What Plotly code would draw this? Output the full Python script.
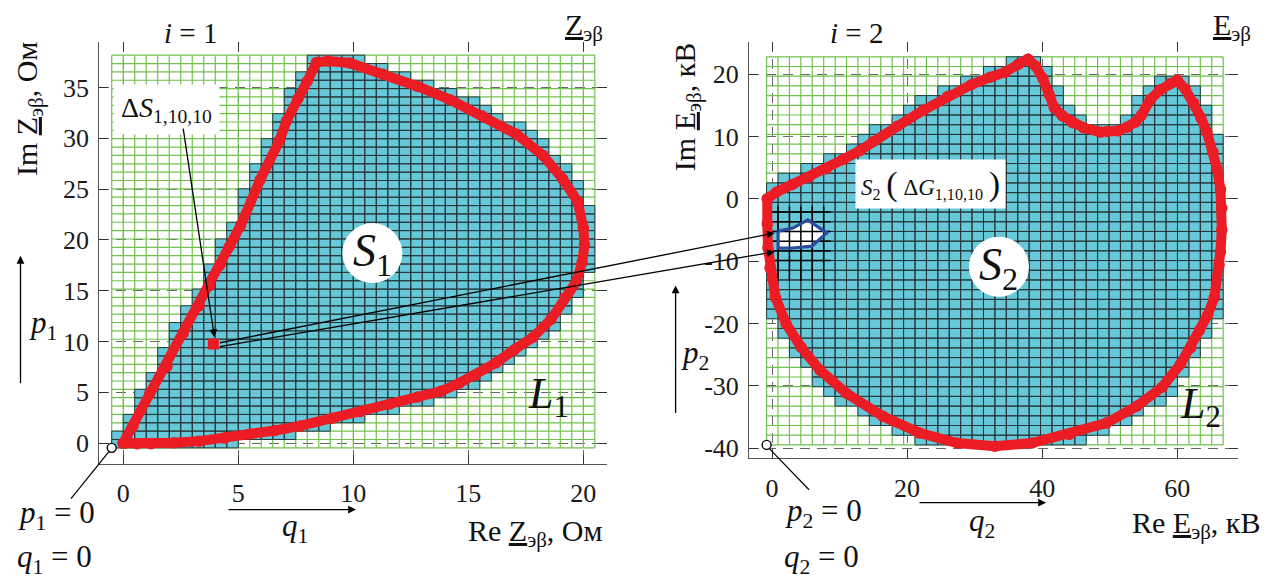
import numpy as np
import plotly.graph_objects as go

W, H = 1276, 583          # reference canvas
OFF = 8                   # default <body> margin of the html page
WF, HF = W - OFF, H - OFF  # figure size so that it fits in the window
FONT = "Liberation Serif, Times New Roman, serif"

# ---------------- data ----------------
# boundary L1 of region S1 (left plane, Ohm)
L1_X = [0, 0.6, 1.2, 2.2, 3.3, 4.4, 5.5, 6.6, 7.7, 9.1, 10.3, 11.6, 12.8, 13.8, 14.6, 15.3, 16.2,
        17.0, 17.8, 18.6, 19.2, 19.7, 19.95, 20.05, 20.0, 19.75, 19.1, 18.25, 17.1, 15.6, 14.2,
        12.8, 11.3, 9.85, 8.9, 8.4, 8.0, 7.6, 7.1, 6.8, 5.95, 5.1, 4.6, 4.2, 3.75, 3.3, 2.6, 1.9,
        1.16, 0.43, 0]
L1_Y = [0, -0.05, -0.05, 0.05, 0.2, 0.5, 0.9, 1.25, 1.7, 2.45, 3.1, 3.85, 4.55, 5.1, 5.9, 6.7, 7.9,
        9.2, 10.4, 12.2, 14.3, 15.9, 17.8, 19.5, 21.2, 23.8, 26.0, 28.3, 30.4, 32.2, 33.8,
        35.1, 36.3, 37.4, 37.6, 37.45, 35.6, 33.9, 31.7, 29.8, 25.9, 21.4, 19.3, 17.5, 15.5, 13.5,
        10.8, 7.55, 4.9, 1.7, 0]

# boundary L2 of region S2 (right plane, kV); None marks the small gap in the curve
L2_X = [-0.7, 0.7, 3.0, 5.5, 8.0, 10.5, 13.0, 15.0, 18.5, 22.4, 26.0, 29.5, 32.3, 34.5, 36.5, 37.9,
        39.0, 40.1, 41.0, 41.8, 43.0, 44.5, 46.1, 48.6, None, 49.6, 51.2, 52.6, 53.8, 54.7, 56.0,
        57.5, 59.0, 60.0, 61.2, 62.4, 63.5, 64.4, 65.3, 65.9, 66.4, 66.6, 66.6, 66.4, 66.2, 65.5,
        64.5, 63.3, 62.0, 60.5, 57.8, 54.0, 49.5, 44.0, 38.5, 33.0, 27.4, 21.9, 16.4, 11.0, 7.1,
        4.3, 2.1, 0.5, -0.3, -0.6, -0.7, -0.7]
L2_Y = [0.0, 1.1, 2.3, 3.5, 4.8, 6.3, 7.7, 9.2, 11.6, 14.2, 16.4, 18.3, 19.5, 20.3, 21.6, 22.4,
        21.3, 19.3, 16.8, 14.6, 13.3, 12.2, 11.4, 10.7, None, 10.8, 10.9, 11.5, 12.3, 13.4, 15.9,
        17.5, 18.5, 19.0, 17.6, 15.4, 13.0, 10.7, 7.5, 4.8, 1.5, -1.5, -5.0, -8.5, -10.6, -15.8,
        -18.7, -21.1, -23.9, -26.5, -30.2, -33.3, -36.0, -37.8, -39.2, -39.7, -39.2, -37.6, -34.9,
        -31.2, -27.5, -23.8, -20.1, -15.8, -11.1, -7.9, -4.0, 0.0]

# image S2(dG_1,10,10) of the cell dS_1,10,10
DG_X = [0.9, 3.1, 5.3, 8.1, 5.9, 3.1, 0.9, 0.9]
DG_Y = [-5.2, -4.7, -3.4, -5.5, -7.6, -7.9, -7.9, -5.2]
DS_X = [3.92]
DS_Y = [9.75]

X1_TICKS = [0, 5, 10, 15, 20]
Y1_TICKS = [0, 5, 10, 15, 20, 25, 30, 35]
X2_TICKS = [0, 20, 40, 60]
Y2_TICKS = [-40, -30, -20, -10, 0, 10, 20]
Y2_TEXT = ["-40", "-30", "-20", "-10", "0", "10", "20"]

# cell grids
GRID1 = dict(x0=-0.5, dx=0.5, nx=42, y0=-0.46, dy=0.822, ny=47)
GRID2 = dict(x0=-0.8, dx=1.69, nx=40, y0=-39.5, dy=1.557, ny=40)
MESH2 = dict(k0=1, k1=5, m0=19, m1=24, xa=0.0, xb=8.7, ya=-13.2, yb=-1.2)

# ---------------- layout geometry (reference pixels) ----------------
DOM1 = dict(px=(99.3, 607.0), py=(42.0, 467.7), xr=(-1.04, 21.03), yr=(-2.02, 39.5))
DOM2 = dict(px=(749.2, 1238.0), py=(42.0, 461.7), xr=(-3.38, 69.0), yr=(-41.56, 25.2))


def to_px(d, x, y):
    (a, b), (t, bt) = d["px"], d["py"]
    (x0, x1), (y0, y1) = d["xr"], d["yr"]
    return a + (x - x0) / (x1 - x0) * (b - a), bt - (y - y0) / (y1 - y0) * (bt - t)


def ppu(d):
    return ((d["px"][1] - d["px"][0]) / (d["xr"][1] - d["xr"][0]),
            (d["py"][1] - d["py"][0]) / (d["yr"][1] - d["yr"][0]))


def paper(px, py):
    return (px - OFF) / WF, 1 - (py - OFF) / HF


def inside(px, py, vx, vy):
    vx = np.asarray(vx, float)
    vy = np.asarray(vy, float)
    x2, y2 = np.roll(vx, -1), np.roll(vy, -1)
    px = px[:, None]
    py = py[:, None]
    cond = (vy > py) != (y2 > py)
    xint = (x2 - vx) * (py - vy) / np.where(y2 - vy == 0, 1e-12, y2 - vy) + vx
    return ((cond & (px < xint)).sum(axis=1) % 2) == 1


def cells(g, bx, by, d, marg_px=2.5, ns=7):
    ux, uy = ppu(d)
    mx, my = marg_px / ux, marg_px / uy
    pts = [(a, b) for a, b in zip(bx, by) if a is not None]
    vx = [p[0] for p in pts]
    vy = [p[1] for p in pts]
    s = np.linspace(0, 1, ns)
    sx, sy = np.meshgrid(s, s)
    sx, sy = sx.ravel(), sy.ravel()
    xs, ys = [], []
    for i in range(g["nx"]):
        xa = g["x0"] + i * g["dx"]
        xb = xa + g["dx"]
        for j in range(g["ny"]):
            ya = g["y0"] + j * g["dy"]
            yb = ya + g["dy"]
            qx = xa - mx + sx * (g["dx"] + 2 * mx)
            qy = ya - my + sy * (g["dy"] + 2 * my)
            if inside(qx, qy, vx, vy).any():
                xs += [xa, xb, xb, xa, xa, None]
                ys += [ya, ya, yb, yb, ya, None]
    return xs, ys


def grid_lines(g):
    xs, ys = [], []
    xe = g["x0"] + g["nx"] * g["dx"]
    ye = g["y0"] + g["ny"] * g["dy"]
    for k in range(g["nx"] + 1):
        x = g["x0"] + k * g["dx"]
        xs += [x, x, None]
        ys += [g["y0"], ye, None]
    for m in range(g["ny"] + 1):
        y = g["y0"] + m * g["dy"]
        xs += [g["x0"], xe, None]
        ys += [y, y, None]
    return xs, ys


GREEN = "#72C04E"
CYAN = "#66C8D8"
CELL_LINE = "#27383A"
RED = "#EC1C24"
BLUE = "#2A4C9E"

fig = go.Figure()


def add_plane(g, bx, by, d, xa, ya):
    gx, gy = grid_lines(g)
    fig.add_trace(go.Scatter(x=gx, y=gy, mode="lines", line=dict(color=GREEN, width=1.2),
                             hoverinfo="skip", showlegend=False, xaxis=xa, yaxis=ya))
    cx, cy = cells(g, bx, by, d)
    fig.add_trace(go.Scatter(x=cx, y=cy, mode="lines", fill="toself", fillcolor=CYAN,
                             line=dict(color=CELL_LINE, width=1), hoverinfo="skip",
                             showlegend=False, xaxis=xa, yaxis=ya))


add_plane(GRID1, L1_X, L1_Y, DOM1, "x", "y")
add_plane(GRID2, L2_X, L2_Y, DOM2, "x2", "y2")

# white image of the cell + local black mesh
fig.add_trace(go.Scatter(x=DG_X, y=DG_Y, mode="lines", fill="toself", fillcolor="white",
                         line=dict(color="white", width=0), hoverinfo="skip", showlegend=False,
                         xaxis="x2", yaxis="y2"))
mx_, my_ = [], []
for k in range(MESH2["k0"], MESH2["k1"] + 1):
    x = GRID2["x0"] + k * GRID2["dx"]
    mx_ += [x, x, None]
    my_ += [MESH2["ya"], MESH2["yb"], None]
for m in range(MESH2["m0"], MESH2["m1"] + 1):
    y = GRID2["y0"] + m * GRID2["dy"]
    mx_ += [MESH2["xa"], MESH2["xb"], None]
    my_ += [y, y, None]
fig.add_trace(go.Scatter(x=mx_, y=my_, mode="lines", line=dict(color="black", width=1.5),
                         hoverinfo="skip", showlegend=False, xaxis="x2", yaxis="y2"))

# red boundaries
fig.add_trace(go.Scatter(x=L1_X, y=L1_Y, mode="lines+markers", line=dict(color=RED, width=10),
                         marker=dict(color=RED, size=11.5), hoverinfo="skip", showlegend=False,
                         xaxis="x", yaxis="y"))
fig.add_trace(go.Scatter(x=L2_X, y=L2_Y, mode="lines+markers", line=dict(color=RED, width=10),
                         marker=dict(color=RED, size=11.5), hoverinfo="skip", showlegend=False,
                         xaxis="x2", yaxis="y2"))
fig.add_trace(go.Scatter(x=DG_X, y=DG_Y, mode="lines", line=dict(color=BLUE, width=3.2),
                         hoverinfo="skip", showlegend=False, xaxis="x2", yaxis="y2"))
fig.add_trace(go.Scatter(x=DS_X, y=DS_Y, mode="markers",
                         marker=dict(symbol="square", color=RED, size=11),
                         hoverinfo="skip", showlegend=False, xaxis="x", yaxis="y"))
# origin markers p=0, q=0
fig.add_trace(go.Scatter(x=[GRID1["x0"]], y=[GRID1["y0"]], mode="markers",
                         marker=dict(symbol="circle", color="white", size=9,
                                     line=dict(color="black", width=1.4)),
                         hoverinfo="skip", showlegend=False, xaxis="x", yaxis="y"))
fig.add_trace(go.Scatter(x=[GRID2["x0"]], y=[GRID2["y0"]], mode="markers",
                         marker=dict(symbol="circle", color="white", size=9,
                                     line=dict(color="black", width=1.4)),
                         hoverinfo="skip", showlegend=False, xaxis="x2", yaxis="y2"))
# dummy traces for mirrored tick axes
fig.add_trace(go.Scatter(x=[None], y=[None], xaxis="x3", yaxis="y3", showlegend=False))
fig.add_trace(go.Scatter(x=[None], y=[None], xaxis="x4", yaxis="y4", showlegend=False))

AX = dict(ticks="inside", ticklen=9, tickwidth=1.2, tickcolor="#333", showline=True,
          linecolor="#555", linewidth=1.3, showgrid=True, gridcolor="#666", gridwidth=1.2,
          griddash="10px,7px", zeroline=False, tickfont=dict(family=FONT, size=26, color="#1a1a1a"))
MIR = dict(ticks="inside", ticklen=9, tickwidth=1.2, tickcolor="#333", showline=False,
           showgrid=False, zeroline=False, showticklabels=False)


def dom_x(d):
    return [paper(d["px"][0], 0)[0], paper(d["px"][1], 0)[0]]


def dom_y(d):
    return [paper(0, d["py"][1])[1], paper(0, d["py"][0])[1]]


fig.update_layout(
    width=WF, height=HF, margin=dict(l=0, r=0, t=0, b=0),
    paper_bgcolor="white", plot_bgcolor="white", showlegend=False,
    xaxis=dict(domain=dom_x(DOM1), range=list(DOM1["xr"]), tickvals=X1_TICKS, anchor="y",
               ticklabelstandoff=6, **AX),
    yaxis=dict(domain=dom_y(DOM1), range=list(DOM1["yr"]), tickvals=Y1_TICKS, anchor="x",
               ticklabelstandoff=4, **AX),
    xaxis2=dict(domain=dom_x(DOM2), range=list(DOM2["xr"]), tickvals=X2_TICKS, anchor="y2",
                ticklabelstandoff=7, **AX),
    yaxis2=dict(domain=dom_y(DOM2), range=list(DOM2["yr"]), tickvals=Y2_TICKS, ticktext=Y2_TEXT,
                anchor="x2", ticklabelstandoff=4, **AX),
    xaxis3=dict(overlaying="x", side="top", anchor="y", range=list(DOM1["xr"]),
                tickvals=X1_TICKS, **MIR),
    yaxis3=dict(overlaying="y", side="right", anchor="x", range=list(DOM1["yr"]),
                tickvals=Y1_TICKS, **MIR),
    xaxis4=dict(overlaying="x2", side="top", anchor="y2", range=list(DOM2["xr"]),
                tickvals=X2_TICKS, **MIR),
    yaxis4=dict(overlaying="y2", side="right", anchor="x2", range=list(DOM2["yr"]),
                tickvals=Y2_TICKS, **MIR),
)

ann = []


def txt(px, py, text, size, angle=0, bg=None, pad=1):
    x, y = paper(px, py)
    a = dict(x=x, y=y, xref="paper", yref="paper", text=text, showarrow=False,
             font=dict(family=FONT, size=size, color="#111"), xanchor="center",
             yanchor="middle", textangle=angle, borderpad=pad)
    if bg:
        a["bgcolor"] = bg
    ann.append(a)


def arrow(head, tail, head_style=2):
    x, y = paper(*head)
    ann.append(dict(x=x, y=y, xref="paper", yref="paper", ax=tail[0] - head[0],
                    ay=tail[1] - head[1], axref="pixel", ayref="pixel", text="",
                    showarrow=True, arrowhead=head_style, arrowsize=1.2, arrowwidth=1.3,
                    arrowcolor="black"))


ZE = "<u>Z</u><sub>эβ</sub>"
EE = "<u>E</u><sub>эβ</sub>"
txt(190, 33, "<i>i</i> = 1", 29)
txt(584, 27, ZE, 30)
txt(857, 33, "<i>i</i> = 2", 29)
txt(1232, 27, EE, 30)
txt(29, 110, "Im " + ZE + ", Ом", 30, angle=-90)
txt(687, 108, "Im " + EE + ", кВ", 30, angle=-90)
txt(535, 538, "Re " + ZE + ", Ом", 30)
txt(1196, 530, "Re " + EE + ", кВ", 30)
txt(43, 328, "<i>p</i><sub>1</sub>", 31)
txt(695, 358, "<i>p</i><sub>2</sub>", 31)
txt(295, 533, "<i>q</i><sub>1</sub>", 31)
txt(982, 528, "<i>q</i><sub>2</sub>", 31)
txt(56, 519, "<i>p</i><sub>1</sub> = 0", 31)
txt(54, 564, "<i>q</i><sub>1</sub> = 0", 31)
txt(823, 517, "<i>p</i><sub>2</sub> = 0", 31)
txt(821, 564, "<i>q</i><sub>2</sub> = 0", 31)

arrow((20.5, 258), (20.5, 387))
arrow((675.6, 288), (675.6, 417))
arrow((356, 514), (227, 514))
arrow((1046, 507), (918, 507))

# labels inside the planes
for d, (lx, ly), lab in [(DOM1, (18.5, 4.6), "<i>L</i><sub>1</sub>"),
                         (DOM2, (63.4, -33.3), "<i>L</i><sub>2</sub>")]:
    px, py = to_px(d, lx, ly)
    txt(px, py, lab, 44)

shapes = []
for d, xa, ya, (cx, cy), lab in [(DOM1, "x", "y", (10.83, 18.7), "<i>S</i><sub>1</sub>"),
                                 (DOM2, "x2", "y2", (33.6, -10.9), "<i>S</i><sub>2</sub>")]:
    shapes.append(dict(type="circle", xref=xa, yref=ya, xsizemode="pixel", ysizemode="pixel",
                       xanchor=cx, yanchor=cy, x0=-30, x1=30, y0=-30, y1=30,
                       fillcolor="white", line=dict(width=0), layer="above"))
    px, py = to_px(d, cx, cy)
    txt(px, py + 1, lab, 46)

txt(166, 110, "Δ<i>S</i><sub>1,10,10</sub>", 28, bg="white", pad=7)
txt(930, 186, "<i>S</i><sub>2</sub> <span style='font-size:34px'>(</span> Δ<i>G</i><sub>1,10,10</sub>"
    " <span style='font-size:34px'>)</span>", 23, bg="white", pad=5)

# leader from the label to the cell, and mapping lines cell -> image
sq = to_px(DOM1, DS_X[0], DS_Y[0])
arrow((sq[0] + 1, sq[1] - 7), (183, 130))
h1 = to_px(DOM2, DG_X[0] - 0.5, -5.5)
h2 = to_px(DOM2, DG_X[0] - 0.5, -8.5)
arrow(h1, (sq[0] + 5, sq[1] - 2))
arrow(h2, (sq[0] + 5, sq[1] + 2))

# leader lines from origin circles to "p = 0" labels
for d, g, end in [(DOM1, GRID1, (71, 503)), (DOM2, GRID2, (809, 494))]:
    ox, oy = to_px(d, g["x0"], g["y0"])
    ox += -3 if d is DOM1 else 3
    oy += 4
    x0, y0 = paper(ox, oy)
    x1, y1 = paper(*end)
    shapes.append(dict(type="line", xref="paper", yref="paper", x0=x0, y0=y0, x1=x1, y1=y1,
                       line=dict(color="black", width=1.2)))

fig.update_layout(annotations=ann, shapes=shapes)
fig.write_html("out.html")
